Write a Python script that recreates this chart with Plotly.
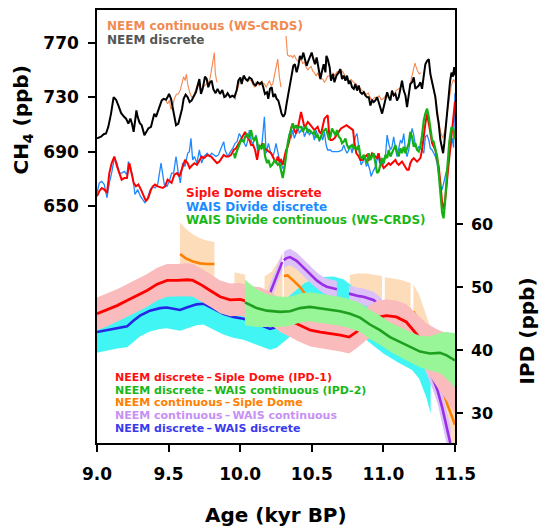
import plotly.graph_objects as go

# ---------------- upper panel: CH4 records (ppb) ----------------
neem_d_age = [9.000, 9.028, 9.047, 9.063, 9.079, 9.098, 9.116, 9.133, 9.149, 9.168, 9.186, 9.203, 9.219, 9.233, 9.244, 9.256, 9.268, 9.275, 9.284, 9.298,
              9.312, 9.331, 9.345, 9.358, 9.377, 9.391, 9.400, 9.412, 9.424, 9.435, 9.452, 9.466, 9.482, 9.493, 9.503, 9.517, 9.528, 9.540, 9.552, 9.568,
              9.582, 9.594, 9.605, 9.619, 9.633, 9.647, 9.661, 9.675, 9.691, 9.703, 9.715, 9.726, 9.738,
              9.754, 9.766, 9.777, 9.789, 9.801, 9.812, 9.828, 9.842, 9.859, 9.875, 9.889, 9.898, 9.912, 9.929, 9.945, 9.959, 9.975, 9.987, 10.001, 10.010,
              10.024, 10.038, 10.052, 10.064, 10.080, 10.094, 10.108, 10.122, 10.138, 10.150, 10.161, 10.173, 10.187, 10.196, 10.208, 10.220, 10.231, 10.243, 10.254, 10.266,
              10.278, 10.289, 10.301, 10.313, 10.324, 10.336, 10.348, 10.359, 10.371, 10.382, 10.394, 10.406, 10.417, 10.429, 10.441, 10.452, 10.464, 10.476, 10.487, 10.499,
              10.511, 10.522, 10.534, 10.545,
              10.560, 10.572, 10.583, 10.595, 10.602, 10.611, 10.625, 10.634, 10.648, 10.658, 10.672, 10.688, 10.700, 10.711, 10.723, 10.735, 10.746, 10.758, 10.769, 10.781,
              10.793, 10.804, 10.816, 10.828, 10.839, 10.851, 10.863, 10.874, 10.886, 10.898, 10.909, 10.921, 10.932, 10.944, 10.956, 10.967, 10.979, 10.991, 11.002, 11.014,
              11.026, 11.037, 11.049, 11.060, 11.072, 11.084, 11.095, 11.107, 11.119, 11.130, 11.142, 11.154, 11.165, 11.177, 11.188, 11.200, 11.212, 11.223, 11.235, 11.247,
              11.258, 11.270, 11.282, 11.293, 11.305, 11.317, 11.328, 11.340, 11.351, 11.363, 11.375, 11.386, 11.398, 11.410, 11.417,
              11.425, 11.435, 11.445, 11.455, 11.465, 11.475, 11.485, 11.495, 11.500]
neem_d_ch4 = [699.7, 700.9, 702.8, 703.3, 708.2, 717.9, 730.0, 728.1, 723.9, 718.4, 715.9, 714.2, 710.6, 714.2, 710.6, 704.5, 714.2, 720.3, 715.5, 711.1,
              709.4, 702.1, 704.5, 707.0, 708.2, 713.0, 717.9, 715.5, 719.1, 722.7, 727.6, 728.8, 728.1, 730.0, 732.4, 728.8, 722.7, 715.5, 709.4, 710.6,
              715.5, 721.5, 728.8, 731.9, 730.0, 726.4, 727.6, 730.0, 733.6, 738.5, 743.3, 732.4, 736.1,
              745.0, 743.3, 737.3, 740.9, 742.1, 736.1, 732.9, 736.1, 732.4, 735.3, 730.0, 730.5, 732.9, 730.0, 731.0, 730.0, 734.8, 742.1, 744.5, 739.7,
              745.8, 743.3, 742.1, 744.5, 743.3, 739.7, 738.5, 740.9, 739.7, 740.9, 737.3, 732.4, 733.6, 728.8, 736.1, 737.3, 730.0, 732.4, 728.8, 727.6,
              722.7, 717.9, 715.5, 717.9, 725.2, 732.4, 739.7, 747.0, 753.0, 754.2, 748.2, 753.0, 760.3, 757.9, 762.7, 757.9, 753.0, 756.7, 759.1, 762.7,
              757.9, 754.2, 759.1, 751.8,
              743.3, 749.4, 754.2, 748.2, 760.3, 757.9, 751.8, 742.1, 747.0, 740.9, 745.8, 748.2, 750.6, 743.3, 745.8, 742.1, 745.8, 739.7, 742.1, 737.3,
              736.1, 739.7, 734.8, 738.5, 733.6, 732.4, 733.6, 731.2, 730.0, 730.0, 723.9, 727.6, 726.4, 727.6, 730.0, 726.4, 721.5, 717.9, 722.7, 728.8,
              733.6, 730.0, 727.6, 734.8, 731.2, 732.4, 727.6, 730.0, 736.1, 742.1, 734.8, 731.2, 722.7, 733.6, 739.7, 740.9, 744.5, 736.1, 737.3, 738.5,
              740.9, 736.1, 745.8, 754.2, 756.7, 757.9, 747.0, 740.9, 736.1, 730.0, 717.9, 710.6, 698.5, 691.2, 688.8,
              696.0, 708.0, 722.0, 733.0, 741.0, 748.0, 745.0, 752.0, 746.0]

neem_c_age = [9.480, 9.493, 9.505, 9.516, 9.526, 9.540, 9.554, 9.568, 9.582, 9.594, 9.605, 9.615, 9.624, 9.633, 9.647, 9.661, 9.675, 9.691, 9.703, 9.715,
              9.726, 9.740, 9.754, 9.768, 9.780, 9.791, 9.801, 9.810, 9.819, 9.826, 9.835, 9.842, None,
              9.965, 9.971, 9.983, 9.994, 10.006, 10.018, 10.029, 10.041, 10.053, 10.076, 10.088, 10.099, 10.111, 10.134, 10.146, 10.169, 10.181, 10.204, 10.216, 10.227,
              10.239, 10.250, 10.262, 10.274, 10.285, None,
              10.320, 10.330, 10.344, 10.355, 10.367, 10.378, 10.390, 10.402, 10.413, 10.425, 10.437, 10.448, 10.460, 10.472, 10.483, 10.495, 10.507, 10.518, 10.530, 10.541,
              10.553, 10.565, 10.576, 10.588, 10.600, 10.611, 10.627, None,
              10.645, 10.660, 10.675, 10.690, 10.700, 10.715, 10.730, 10.745, 10.760, 10.775, 10.790, 10.805, 10.820, 10.835, 10.850, 10.865, 10.880, 10.895, 10.910, 10.925,
              10.940, 10.955, 10.970, 10.985, 11.000, 11.015, 11.030, 11.045, 11.060, 11.075, 11.090, 11.105, 11.120, None,
              11.190, 11.205, 11.220, 11.235, 11.250, 11.262, None,
              11.330, 11.350, 11.370, 11.385, 11.400, 11.415, 11.430, 11.445, 11.460, 11.475, 11.490, 11.500]
neem_c_ch4 = [727.5, 725.2, 727.6, 721.0, 722.7, 728.8, 731.9, 732.4, 735.3, 740.9, 745.0, 742.1, 747.0, 739.7, 733.6, 730.0, 731.2, 736.1, 739.7, 737.3,
              733.6, 737.3, 738.5, 739.7, 741.0, 744.5, 751.8, 756.7, 762.7, 748.0, 742.0, 741.0, None,
              728.0, 733.6, 736.1, 740.9, 743.3, 742.1, 745.8, 742.1, 743.3, 742.1, 739.7, 737.3, 740.9, 738.5, 740.9, 739.7, 737.3, 742.1, 738.5, 739.7,
              745.8, 751.8, 757.9, 744.5, 737.3, None,
              775.0, 761.0, 760.0, 760.5, 759.0, 761.0, 758.0, 756.5, 756.0, 758.0, 754.5, 756.0, 752.0, 750.0, 751.5, 752.5, 749.0, 748.0, 745.5, 748.0,
              744.5, 743.3, 743.3, 741.0, 743.0, 745.5, 745.5, None,
              748.0, 746.0, 748.5, 749.0, 747.0, 749.0, 746.0, 744.0, 742.0, 743.0, 741.0, 740.0, 738.0, 737.0, 735.0, 734.0, 732.0, 733.0, 729.0, 728.0,
              730.0, 729.0, 731.0, 728.0, 729.0, 731.0, 732.0, 729.0, 733.0, 732.0, 735.0, 736.0, 737.0, None,
              741.0, 748.0, 755.0, 750.0, 747.0, 748.0, None,
              745.0, 736.0, 726.0, 714.0, 704.0, 700.0, 706.0, 718.0, 730.0, 739.0, 743.0, 741.0]

siple_age = [9.000, 9.016, 9.033, 9.051, 9.070, 9.086, 9.102, 9.121, 9.140, 9.156, 9.172, 9.191, 9.209, 9.226, 9.242, 9.256, 9.272, 9.289, 9.307, 9.326,
             9.342, 9.358, 9.377, 9.391, 9.405, 9.424, 9.442, 9.459, 9.475, 9.493, 9.507, 9.521, 9.540, 9.559, 9.575, 9.587, 9.601, 9.615, 9.633, 9.647,
             9.661, 9.680, 9.698, 9.715, 9.731, 9.745,
             9.773, 9.797, 9.820, 9.838, 9.855, 9.871, 9.885, 9.901, 9.918, 9.936, 9.955, 9.971, 9.983, 10.001, 10.018, 10.034, 10.048, 10.064, 10.076, 10.090,
             10.104, 10.118, 10.129, 10.146, 10.157, 10.169, 10.183, 10.197, 10.216, 10.227, 10.239, 10.250, 10.262, 10.274, 10.285, 10.297, 10.320, 10.332, 10.344, 10.355,
             10.367, 10.378, 10.390, 10.402, 10.425, 10.437, 10.448, 10.460, 10.472, 10.483, 10.507, 10.518, 10.541, 10.553, 10.565, 10.576, 10.588, 10.600, 10.611,
             10.622, 10.630, 10.641, 10.658, 10.672, 10.688, 10.704, 10.723, 10.742, 10.758, 10.774, 10.788, 10.797, 10.811, 10.828, 10.839, 10.851, 10.863, 10.874, 10.886,
             10.898, 10.909, 10.921, 10.932, 10.956, 10.967, 10.979, 10.991, 11.002, 11.014, 11.026, 11.037, 11.049, 11.060, 11.072, 11.084, 11.095, 11.107, 11.130, 11.154,
             11.165, 11.177, 11.188, 11.200, 11.212, 11.223, 11.235, 11.247, 11.258, 11.270, 11.282, 11.293, 11.305, 11.317, 11.328, 11.340, 11.363, 11.386, 11.398, 11.410,
             11.421, 11.435, 11.450, 11.465, 11.480, 11.490, 11.500]
siple_ch4 = [657.3, 660.9, 663.3, 662.1, 659.7, 674.2, 681.5, 686.4, 679.1, 674.2, 669.4, 670.6, 670.6, 681.5, 673.0, 667.0, 664.5, 665.8, 662.1, 657.3,
             653.6, 656.1, 662.1, 664.5, 665.8, 664.5, 664.1, 663.3, 664.5, 669.4, 668.2, 667.0, 673.0, 674.2, 671.8, 675.5, 680.3, 683.9, 681.5, 677.9,
             679.6, 681.5, 680.3, 683.9, 686.4, 685.2,
             687.6, 686.4, 683.9, 681.5, 682.7, 685.2, 687.6, 686.4, 686.4, 687.6, 691.2, 692.4, 694.8, 698.5, 702.1, 704.5, 700.9, 698.5, 694.8, 694.8,
             691.2, 683.9, 691.2, 694.8, 696.1, 692.4, 691.2, 690.0, 688.8, 686.4, 683.9, 681.5, 686.4, 682.7, 683.9, 680.3, 691.2, 693.6, 698.5, 707.0,
             710.6, 705.8, 703.3, 707.0, 719.1, 713.0, 708.2, 709.4, 711.8, 710.6, 707.0, 705.8, 708.2, 704.5, 703.3, 709.4, 714.2, 715.5, 716.7,
             702.0, 698.5, 698.5, 699.7, 702.1, 704.5, 707.0, 708.2, 709.4, 708.2, 707.0, 705.8, 697.3, 688.8, 686.4, 683.9, 683.9, 685.2, 686.4, 687.6,
             683.9, 685.2, 688.8, 687.6, 685.2, 688.8, 681.5, 680.3, 677.9, 679.1, 680.3, 681.5, 680.3, 681.5, 682.7, 683.9, 681.5, 680.3, 682.7, 677.9,
             676.7, 676.7, 681.5, 683.9, 685.2, 683.9, 682.7, 683.9, 685.2, 691.2, 703.3, 710.6, 717.9, 710.6, 700.9, 696.1, 691.2, 679.1, 667.0, 652.4,
             647.6, 658.0, 675.0, 692.0, 708.0, 718.0, 727.0]

wais_d_age = [9.000, 9.016, 9.033, 9.051, 9.070, 9.086, 9.102, 9.121, 9.140, 9.156, 9.172, 9.191, 9.209, 9.219, 9.233, 9.249, 9.265, 9.284, 9.303, 9.319,
              9.335, 9.354, 9.372, 9.389, 9.405, 9.424, 9.435, 9.447, 9.470, 9.489, 9.505, 9.521, 9.535, 9.552, 9.568, 9.582, 9.598, 9.615, 9.633, 9.645,
              9.656, 9.668, 9.680, 9.698, 9.715, 9.731, 9.745,
              9.769, 9.785, 9.801, 9.831, 9.848, 9.866, 9.885, 9.894, 9.913, 9.932, 9.948, 9.964, 9.978, 9.994, 10.006, 10.025, 10.041, 10.053, 10.064,
              10.076, 10.088, 10.099, 10.111, 10.122, 10.134, 10.150, 10.169, 10.181, 10.197, 10.211, 10.227, 10.239, 10.250, 10.274, 10.285, 10.297, 10.309, 10.320, 10.332,
              10.344, 10.355, 10.367, 10.378, 10.390, 10.402, 10.413, 10.425, 10.437, 10.448, 10.460, 10.472, 10.483, 10.495, 10.507, 10.518, 10.530, 10.541, 10.553,
              10.565, 10.576, 10.588, 10.600, 10.611, 10.630, 10.641, 10.665, 10.688, 10.711, 10.723, 10.735, 10.746, 10.758, 10.769, 10.781, 10.793, 10.804, 10.816, 10.835,
              10.844, 10.858, 10.867, 10.881, 10.891, 10.905, 10.914, 10.928, 10.951, 10.960, 10.974, 10.984, 10.998, 11.014, 11.026, 11.037, 11.049, 11.060, 11.072, 11.084,
              11.095, 11.107, 11.119, 11.130, 11.142, 11.154, 11.165, 11.177, 11.188, 11.200, 11.212, 11.223, 11.235, 11.247, 11.270, 11.282, 11.293, 11.305, 11.317, 11.328,
              11.340, 11.363, 11.375, 11.386, 11.398, 11.410, 11.421, 11.435, 11.450, 11.465, 11.480, 11.490, 11.500]
wais_d_ch4 = [659.7, 667.0, 668.2, 665.8, 656.1, 667.0, 674.2, 685.2, 681.5, 674.2, 674.2, 675.5, 673.0, 682.7, 679.1, 671.8, 658.5, 662.1, 657.3, 654.8,
              652.4, 656.1, 662.1, 664.5, 663.3, 665.8, 673.0, 681.5, 665.8, 664.5, 668.2, 674.2, 674.2, 686.4, 674.2, 667.0, 681.5, 679.1, 688.8, 690.0,
              699.7, 683.9, 686.4, 681.5, 691.2, 681.5, 686.4,
              688.8, 686.4, 688.8, 686.4, 687.6, 692.4, 697.3, 691.2, 686.4, 690.0, 692.4, 696.1, 697.3, 703.3, 700.9, 696.1, 693.6, 698.5, 705.8,
              698.5, 694.8, 699.7, 702.1, 688.8, 694.8, 693.6, 715.5, 688.8, 696.1, 690.0, 686.4, 690.0, 696.1, 683.9, 681.5, 677.9, 679.1, 688.8, 696.1,
              703.3, 699.7, 705.8, 699.7, 703.3, 709.4, 703.3, 705.8, 708.2, 700.9, 704.5, 707.0, 702.1, 704.5, 703.3, 698.5, 705.8, 700.9, 697.3,
              702.1, 698.5, 704.5, 694.8, 691.2, 691.2, 690.0, 690.0, 690.0, 691.2, 694.8, 691.2, 688.8, 691.2, 694.8, 688.8, 694.8, 700.9, 703.3, 688.8,
              680.3, 682.7, 686.4, 679.1, 681.5, 676.7, 671.8, 675.5, 680.3, 688.8, 681.5, 685.2, 680.3, 686.4, 702.1, 696.1, 691.2, 693.6, 700.9, 692.4,
              686.4, 692.4, 698.5, 696.1, 703.3, 691.2, 686.4, 691.2, 700.9, 707.0, 702.1, 694.8, 691.2, 693.6, 691.2, 688.8, 700.9, 702.1, 698.5, 692.4,
              691.2, 686.4, 681.5, 671.8, 664.5, 662.1, 667.0, 672.0, 680.0, 690.0, 700.0, 693.0, 733.0]

wais_c_age = [9.955, 9.964, 9.971, 9.983, 9.994, 10.006, 10.025, 10.034, 10.048, 10.057, 10.067, 10.076, 10.088, 10.099, 10.111, 10.122, 10.129, 10.141, 10.150, 10.164,
              10.174, 10.188, 10.197, 10.211, 10.223, 10.243, 10.253, 10.262, 10.274, 10.285, 10.297, 10.309, 10.320, 10.332, 10.344, 10.355, 10.367, 10.378, 10.390, 10.402,
              10.413, 10.425, 10.437, 10.448, 10.460, 10.472, 10.483, 10.495, 10.507, 10.518, 10.530, 10.541, 10.553, 10.565, 10.576, 10.600,
              10.618, 10.630, 10.641, 10.653, 10.665, 10.676, 10.688, 10.700, 10.711, 10.723, 10.735, 10.746, 10.758, 10.769, 10.781, 10.793, 10.804, 10.816, 10.828, 10.839,
              10.851, 10.863, 10.874, 10.886, 10.898, 10.909, 10.921, 10.932, 10.944, 10.956, 10.967, 10.991, 11.002, 11.014, 11.026, 11.037, 11.049, 11.060, 11.072, 11.084,
              11.095, 11.107, 11.119, 11.130, 11.142, 11.154, 11.177, 11.188, 11.200, 11.212, 11.223, 11.235, 11.247, 11.258, 11.270, 11.282, 11.293, 11.305, 11.317, 11.328,
              11.340, 11.351, 11.363, 11.375, 11.386, 11.398, 11.410, 11.420, 11.430, 11.445, 11.460, 11.475, 11.490, 11.500]
wais_c_ch4 = [688.8, 685.2, 688.8, 692.4, 696.1, 698.5, 697.3, 700.9, 703.3, 699.7, 702.1, 705.8, 699.7, 698.5, 700.9, 694.8, 691.2, 693.6, 692.4, 696.1,
              686.4, 681.5, 683.9, 679.1, 680.3, 683.9, 681.5, 680.3, 681.5, 676.7, 670.6, 677.9, 688.8, 696.1, 702.1, 705.8, 710.6, 707.0, 709.4, 707.0,
              708.2, 708.2, 704.5, 707.0, 708.2, 704.5, 705.8, 704.5, 703.3, 704.5, 700.9, 702.1, 698.5, 700.9, 704.5, 707.0,
              699.7, 700.9, 707.0, 704.5, 702.1, 705.8, 700.9, 699.7, 696.1, 697.3, 699.7, 694.8, 692.4, 693.6, 694.8, 692.4, 693.6, 691.2, 694.8, 686.4,
              685.2, 687.6, 685.2, 681.5, 688.8, 683.9, 686.4, 688.8, 681.5, 674.2, 675.5, 685.2, 681.5, 687.6, 685.2, 691.2, 686.4, 688.8, 691.2, 694.8,
              690.0, 686.4, 692.4, 688.8, 693.6, 688.8, 696.1, 704.5, 700.9, 693.6, 696.1, 691.2, 690.0, 693.6, 702.1, 713.0, 717.9, 721.5, 715.5, 705.8,
              698.5, 697.3, 691.2, 686.4, 674.2, 657.3, 645.2, 641.0, 652.0, 676.0, 697.0, 708.0, 706.0, 699.0]

# ---------------- lower panel: interpolar differences (IPD, ppb) ----------------
ipd1_age = [9.00, 9.07, 9.14, 9.21, 9.28, 9.35, 9.42, 9.49, 9.56, 9.63, 9.67, 9.72, 9.79, 9.86, 9.93, 10.00, 10.07, 10.14, 10.21, 10.28,
            10.35, 10.42, 10.49, 10.56, 10.63, 10.70, 10.76, 10.81, 10.88, 10.95, 11.02, 11.09, 11.16, 11.23, 11.30, 11.37, 11.44, 11.50]
ipd1 = [45.8, 46.4, 47.1, 47.9, 48.7, 49.5, 50.5, 51.1, 51.1, 51.2, 51.1, 50.5, 49.5, 48.5, 48.0, 48.1, 47.6, 47.4, 46.7, 45.5,
        44.7, 43.9, 43.2, 42.9, 42.7, 42.4, 42.1, 42.9, 44.2, 45.2, 45.5, 45.3, 44.5, 42.6, 40.5, 38.9, 37.4, 36.2]
ipd1_err = [2.6, 2.6, 2.6, 2.6, 2.6, 2.6, 2.6, 2.6, 2.6, 2.6, 2.6, 2.6, 2.6, 2.6, 2.6, 2.6, 2.6, 2.6, 2.6, 2.6,
            2.6, 2.6, 2.6, 2.6, 2.6, 2.6, 2.6, 2.6, 2.6, 2.6, 2.6, 2.6, 2.8, 3.2, 3.8, 4.5, 5.3, 6.2]

ipd2_age = [10.033, 10.115, 10.185, 10.278, 10.348, 10.418, 10.487, 10.557, 10.627, 10.697, 10.767, 10.837, 10.906, 10.976, 11.046, 11.116,
            11.186, 11.256, 11.325, 11.395, 11.442, 11.500]
ipd2 = [47.6, 46.7, 46.3, 46.1, 46.2, 46.7, 46.9, 46.7, 46.4, 46.2, 45.8, 45.2, 44.1, 43.2, 42.1, 41.3, 40.5, 39.8, 39.5, 39.6, 39.2, 38.4]
ipd2_err = [3.6, 3.0, 2.6, 2.4, 2.3, 2.3, 2.3, 2.3, 2.3, 2.3, 2.3, 2.3, 2.3, 2.3, 2.3, 2.3, 2.4, 2.5, 2.7, 3.2, 3.7, 4.3]

ipd_dd_age = [9.00, 9.07, 9.14, 9.21, 9.254, 9.30, 9.37, 9.44, 9.487, 9.533, 9.58, 9.626, 9.696, 9.743, 9.812, 9.882, 9.952, 10.022, 10.092,
              10.162, 10.208, 10.255, 10.30, 10.35, 10.45, 10.55, 10.65, 10.72, 10.80, 10.90, 11.00, 11.10, 11.20, 11.25, 11.30, 11.33]
ipd_dd = [42.9, 43.2, 43.6, 43.8, 44.7, 45.5, 46.3, 46.7, 46.8, 46.6, 46.4, 46.8, 47.3, 47.4, 46.6, 45.8, 45.3, 45.0, 44.5,
          43.8, 43.4, 43.7, 44.4, 45.5, 47.4, 48.3, 48.4, 48.0, 46.6, 44.6, 42.8, 41.4, 40.0, 38.5, 35.5, 33.0]
ipd_dd_err = [3.3] * 32 + [3.1, 3.0, 3.0, 3.0]
ipd_dd_line_end = 11.20   # the line disappears under the other bands beyond this age

ipd_cs_age = [9.58, 9.62, 9.67, 9.72, 9.77, 9.82, None,
              9.96, 10.00, 10.035, None,
              10.17, 10.22, 10.26, 10.295, None,
              10.305, 10.33, 10.37, 10.42, 10.46, 10.51, 10.56, 10.62, 10.675, None,
              10.765, 10.82, 10.88, 10.94, 10.99, None,
              11.01, 11.06, 11.12, 11.19, None,
              11.21, 11.25, 11.30, 11.35, 11.40, 11.45, 11.50]
ipd_cs = [55.3, 54.6, 54.1, 53.8, 53.7, 53.7, None,
          48.0, 47.8, 47.6, None,
          47.4, 48.2, 49.6, 51.0, None,
          51.8, 51.9, 51.1, 50.0, 48.7, 47.6, 47.2, 47.3, 47.4, None,
          47.7, 47.9, 47.9, 47.7, 47.5, None,
          47.4, 47.2, 47.0, 46.5, None,
          46.2, 44.5, 41.2, 37.8, 34.4, 31.2, 28.2]
ipd_cs_err = [5.0, 4.7, 4.3, 4.0, 3.7, 3.5, None,
              4.4, 4.4, 4.4, None,
              4.3, 4.3, 4.3, 4.3, None,
              3.8, 3.8, 3.8, 3.8, 3.8, 3.8, 3.8, 3.8, 3.8, None,
              4.3, 4.3, 4.3, 4.3, 4.3, None,
              4.2, 4.2, 4.2, 4.2, None,
              4.3, 4.3, 4.3, 4.3, 4.3, 4.3, 4.3]
ipd_cs_line_segments = [0, 3, 4, 5, 6]   # segments whose central line is drawn (1 and 2 show only the band)

ipd_cc_age = [10.20, 10.23, 10.255, 10.275, 10.293, None,
              10.305, 10.32, 10.348, 10.394, 10.43, 10.464, 10.50, 10.534, 10.57, 10.604, 10.64, 10.675, None,
              10.76, 10.79, 10.83, 10.86, 10.90, 10.93, 10.97, 11.00, 11.05, 11.10, 11.15, 11.20, 11.25, 11.28, 11.31, 11.35, 11.38, 11.41, 11.44, 11.47]
ipd_cc = [48.6, 50.3, 51.8, 53.0, 54.0, None,
          54.3, 54.6, 54.8, 54.2, 53.4, 52.6, 51.8, 51.1, 50.5, 50.1, 49.9, 49.7, None,
          49.0, 48.8, 48.6, 48.5, 48.2, 48.0, 47.3, 46.6, 45.3, 44.0, 42.8, 41.6, 40.3, 39.0, 37.5, 35.3, 33.5, 31.0, 28.0, 25.0]
ipd_cc_err = [1.4, 1.4, 1.4, 1.4, 1.4, None,
              1.3, 1.3, 1.3, 1.3, 1.3, 1.3, 1.3, 1.3, 1.3, 1.3, 1.3, 1.3, None,
              1.3, 1.3, 1.3, 1.3, 1.3, 1.3, 1.3, 1.3, 1.3, 1.3, 1.3, 1.3, 1.4, 1.5, 1.6, 1.8, 2.0, 2.3, 2.6, 2.8]

x_ticks = [9.0, 9.5, 10.0, 10.5, 11.0, 11.5]
ch4_ticks = [650, 690, 730, 770]
ipd_ticks = [30, 40, 50, 60]

FONT = "DejaVu Sans"


def segments(xs, ys, es=None):
    out, cx, cy, ce = [], [], [], []
    for i, x in enumerate(xs):
        if x is None:
            if cx:
                out.append((cx, cy, ce))
            cx, cy, ce = [], [], []
        else:
            cx.append(x)
            cy.append(ys[i])
            ce.append(es[i] if es else 0)
    if cx:
        out.append((cx, cy, ce))
    return out


fig = go.Figure()


def add_band(xs, ys, es, color):
    for sx, sy, se in segments(xs, ys, es):
        up = [a + b for a, b in zip(sy, se)]
        lo = [a - b for a, b in zip(sy, se)]
        fig.add_trace(go.Scatter(x=sx + sx[::-1], y=up + lo[::-1], mode="lines", fill="toself",
                                 fillcolor=color, line=dict(width=0), yaxis="y2", hoverinfo="skip"))


def add_line(xs, ys, color, width, axis="y"):
    fig.add_trace(go.Scatter(x=xs, y=ys, mode="lines", line=dict(color=color, width=width),
                             yaxis=axis, connectgaps=False, hoverinfo="skip"))


# upper panel
add_line(neem_c_age, neem_c_ch4, "#F5874F", 1.1)
add_line(neem_d_age, neem_d_ch4, "#000000", 2.0)
add_line(wais_d_age, wais_d_ch4, "#1E88FF", 1.3)
add_line(siple_age, siple_ch4, "#FF0000", 2.0)
add_line(wais_c_age, wais_c_ch4, "#14B014", 2.2)

# lower panel
dd_x = [a for a in ipd_dd_age if a <= ipd_dd_line_end]
dd_y = ipd_dd[:len(dd_x)]
cs_segs = segments(ipd_cs_age, ipd_cs)
cs_x, cs_y = [], []
for k in ipd_cs_line_segments:
    cs_x += cs_segs[k][0] + [None]
    cs_y += cs_segs[k][1] + [None]

add_band(ipd_cs_age, ipd_cs, ipd_cs_err, "#FDDCBA")
add_band(ipd_dd_age, ipd_dd, ipd_dd_err, "#42F5F5")
add_line(dd_x, dd_y, "#2626E6", 2.6, "y2")
add_line(cs_x, cs_y, "#FF8000", 2.6, "y2")
add_band(ipd_cc_age, ipd_cc, ipd_cc_err, "#DCC2F8")
add_line(ipd_cc_age, ipd_cc, "#9A2EE6", 2.6, "y2")
add_band(ipd1_age, ipd1, ipd1_err, "#F9BBBB")
add_line(ipd1_age, ipd1, "#FF0000", 2.8, "y2")
add_band(ipd2_age, ipd2, ipd2_err, "#98F598")
add_line(ipd2_age, ipd2, "#1EA01E", 2.6, "y2")

ann = []
upper_labels = [("NEEM continuous (WS-CRDS)", "#F08A50", 9.056, 782.2),
                ("NEEM discrete", "#555555", 9.056, 772.0),
                ("Siple Dome discrete", "#FF1010", 9.61, 659.5),
                ("WAIS Divide discrete", "#1A8CFF", 9.61, 649.1),
                ("WAIS Divide continuous (WS-CRDS)", "#18B818", 9.61, 639.6)]
for t, c, x, y in upper_labels:
    ann.append(dict(text=t, x=x, y=y, xref="x", yref="y", xanchor="left", yanchor="middle", showarrow=False,
                    font=dict(family=FONT, size=12, color=c, weight="bold")))
D = "\u2009\u2013\u2009"
lower_labels = [("NEEM discrete" + D + "Siple Dome (IPD-1)", "#FF1010", 35.77),
                ("NEEM discrete" + D + "WAIS continuous (IPD-2)", "#18B818", 33.67),
                ("NEEM continuous" + D + "Siple Dome", "#FF8000", 31.70),
                ("NEEM continuous" + D + "WAIS continuous", "#C890F5", 29.67),
                ("NEEM discrete" + D + "WAIS discrete", "#3A3AEE", 27.60)]
for t, c, y in lower_labels:
    ann.append(dict(text=t, x=9.112, y=y, xref="x", yref="y2", xanchor="left", yanchor="middle", showarrow=False,
                    font=dict(family=FONT, size=11, color=c, weight="bold")))
ann.append(dict(text="CH<sub>4</sub> (ppb)", x=-0.2095, y=0.747, xref="paper", yref="paper", textangle=-90,
                showarrow=False, xanchor="center", yanchor="middle",
                font=dict(family=FONT, size=20, color="black", weight="bold")))
ann.append(dict(text="IPD (ppb)", x=1.201, y=0.26, xref="paper", yref="paper", textangle=-90,
                showarrow=False, xanchor="center", yanchor="middle",
                font=dict(family=FONT, size=20, color="black", weight="bold")))
ann.append(dict(text="Age (kyr BP)", x=0.5, y=-0.1655, xref="paper", yref="paper",
                showarrow=False, xanchor="center", yanchor="middle",
                font=dict(family=FONT, size=20, color="black", weight="bold")))

fig.update_layout(
    width=542, height=529, margin=dict(l=97, r=87, t=8, b=86),
    plot_bgcolor="white", paper_bgcolor="white", showlegend=False,
    font=dict(family=FONT, color="black"),
    annotations=ann,
    xaxis=dict(range=[9.0, 11.5], tickvals=x_ticks, tickformat=".1f", ticks="outside", ticklen=7, tickwidth=1.5,
               tickcolor="black", showline=True, linecolor="black", linewidth=1.5, mirror=True,
               showgrid=False, zeroline=False, ticklabelstandoff=8,
               tickfont=dict(family=FONT, size=17, color="black", weight="bold")),
    yaxis=dict(range=[476, 794], tickvals=ch4_ticks, ticks="outside", ticklen=7, tickwidth=1.5,
               tickcolor="black", showline=True, linecolor="black", linewidth=1.5, mirror=True,
               showgrid=False, zeroline=False, ticklabelstandoff=6,
               tickfont=dict(family=FONT, size=17, color="black", weight="bold")),
    yaxis2=dict(range=[25.3, 94], tickvals=ipd_ticks, overlaying="y", side="right", ticks="outside", ticklen=6,
                tickwidth=1.5, tickcolor="black", showline=True, linecolor="black", linewidth=1.5,
                showgrid=False, zeroline=False, ticklabelstandoff=5,
                tickfont=dict(family=FONT, size=16, color="black", weight="bold")),
)

fig.write_html("out.html", config={"displayModeBar": False},
               post_script="document.body.style.margin='0';document.body.style.padding='0';")
